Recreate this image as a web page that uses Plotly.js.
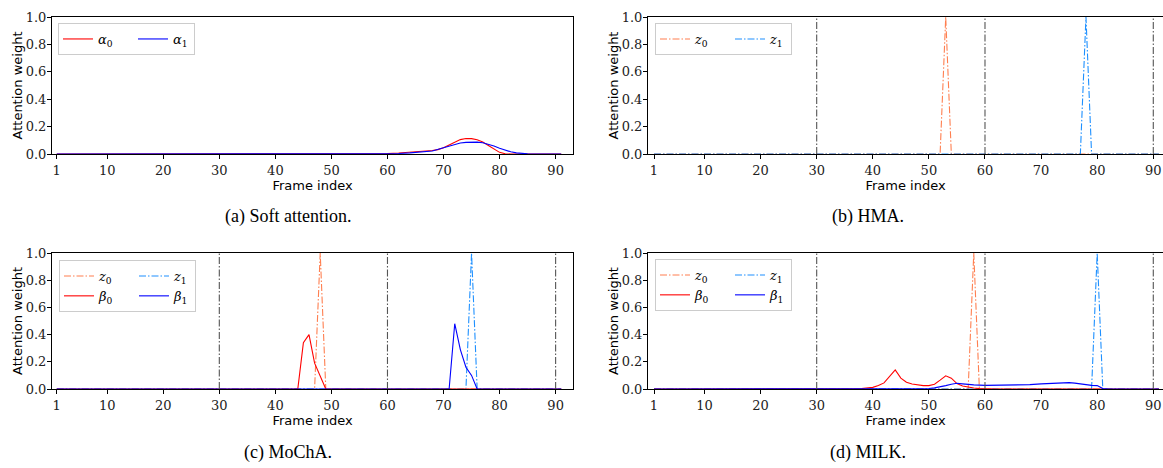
<!DOCTYPE html>
<html>
<head>
<meta charset="utf-8">
<script src="https://cdn.plot.ly/plotly-3.0.1.min.js"></script>
<style>html,body{margin:0;padding:0;background:#fff;}#chart{width:1163px;height:468px;}</style>
</head>
<body>
<div id="chart"></div>
<script>
// ---- data ----
const xTicks = [1, 10, 20, 30, 40, 50, 60, 70, 80, 90];
const yTicks = [0, 0.2, 0.4, 0.6, 0.8, 1.0];
const yTickText = ['0.0', '0.2', '0.4', '0.6', '0.8', '1.0'];
const segBounds = [30, 60, 90];

// (a) Soft attention
const softA0x = [1, 55, 58, 60, 62, 64, 66, 68, 69, 70, 71, 72, 73, 74, 75, 76, 77, 78, 79, 80, 81, 82, 91];
const softA0y = [0, 0, 0.001, 0.003, 0.007, 0.012, 0.018, 0.025, 0.032, 0.046, 0.066, 0.088, 0.105, 0.113, 0.112, 0.104, 0.088, 0.062, 0.035, 0.012, 0.002, 0, 0];
const softA1x = [1, 55, 58, 60, 62, 64, 66, 68, 70, 71, 72, 73, 74, 75, 76, 77, 78, 79, 80, 81, 82, 83, 84, 85, 86, 91];
const softA1y = [0, 0, 0.001, 0.002, 0.004, 0.008, 0.013, 0.022, 0.045, 0.057, 0.07, 0.08, 0.085, 0.087, 0.087, 0.082, 0.072, 0.058, 0.042, 0.028, 0.016, 0.008, 0.003, 0.001, 0, 0];

// (b) HMA
const hmaZ0x = [1, 52, 53, 54, 91];
const hmaZ0y = [0, 0, 1, 0, 0];
const hmaZ1x = [1, 77, 78, 79, 91];
const hmaZ1y = [0, 0, 1, 0, 0];

// (c) MoChA
const mochaZ0x = [1, 47, 48, 49, 91];
const mochaZ0y = [0, 0, 1, 0, 0];
const mochaZ1x = [1, 74, 75, 76, 91];
const mochaZ1y = [0, 0, 1, 0, 0];
const mochaB0x = [1, 44, 45, 46, 47, 48, 49, 91];
const mochaB0y = [0, 0, 0.34, 0.40, 0.19, 0.09, 0, 0];
const mochaB1x = [1, 71, 72, 73, 74, 75, 76, 91];
const mochaB1y = [0, 0, 0.48, 0.29, 0.16, 0.10, 0, 0];

// (d) MILK
const milkZ0x = [1, 57, 58, 59, 91];
const milkZ0y = [0, 0, 1, 0, 0];
const milkZ1x = [1, 79, 80, 81, 91];
const milkZ1y = [0, 0, 1, 0, 0];
const milkB0x = [1, 36, 38, 40, 41, 42, 43, 44, 45, 46, 47, 48, 49, 50, 51, 52, 53, 54, 55, 56, 57, 58, 59, 60, 62, 91];
const milkB0y = [0, 0, 0.003, 0.012, 0.025, 0.045, 0.092, 0.14, 0.08, 0.05, 0.037, 0.03, 0.025, 0.025, 0.035, 0.065, 0.097, 0.08, 0.04, 0.022, 0.013, 0.007, 0.003, 0.001, 0, 0];
const milkB1x = [1, 46, 48, 50, 51, 52, 53, 54, 55, 56, 57, 58, 60, 63, 66, 68, 70, 72, 74, 75, 76, 77, 78, 79, 80, 81, 82, 91];
const milkB1y = [0, 0, 0.001, 0.004, 0.008, 0.015, 0.025, 0.035, 0.042, 0.038, 0.033, 0.03, 0.027, 0.027, 0.028, 0.032, 0.038, 0.043, 0.047, 0.047, 0.043, 0.037, 0.031, 0.027, 0.025, 0.003, 0, 0];

// ---- styles ----
const RED = '#ff0000', BLUE = '#0000ff', CORAL = '#ff7f50', DBLUE = '#1e90ff';
const DASHDOT = '7px,2px,1.5px,2px';
const LW = 1.1;

function tr(x, y, name, color, dash, xa, ya, legend, group, lw) {
  const t = {
    type: 'scatter', mode: 'lines', x: x, y: y, name: name,
    line: {color: color, width: LW, dash: dash || 'solid'},
    xaxis: xa, yaxis: ya, legend: legend, legendgroup: group,
    hoverinfo: 'skip'
  };
  if (lw) t.legendwidth = lw;
  return t;
}
const sub = (g, i) => '<i>' + g + '</i><sub>' + i + '</sub>';

const data = [
  tr(softA0x, softA0y, sub('α', 0), RED, null, 'x', 'y', 'legend', 'a1'),
  tr(softA1x, softA1y, sub('α', 1), BLUE, null, 'x', 'y', 'legend', 'a2', 16),

  tr(hmaZ0x, hmaZ0y, sub('z', 0), CORAL, DASHDOT, 'x2', 'y2', 'legend2', 'b1'),
  tr(hmaZ1x, hmaZ1y, sub('z', 1), DBLUE, DASHDOT, 'x2', 'y2', 'legend2', 'b2', 16),

  tr(mochaZ0x, mochaZ0y, sub('z', 0), CORAL, DASHDOT, 'x3', 'y3', 'legend3', 'c1'),
  tr(mochaZ1x, mochaZ1y, sub('z', 1), DBLUE, DASHDOT, 'x3', 'y3', 'legend3', 'c2', 16),
  tr(mochaB0x, mochaB0y, sub('β', 0), RED, null, 'x3', 'y3', 'legend3', 'c1'),
  tr(mochaB1x, mochaB1y, sub('β', 1), BLUE, null, 'x3', 'y3', 'legend3', 'c2', 16),

  tr(milkZ0x, milkZ0y, sub('z', 0), CORAL, DASHDOT, 'x4', 'y4', 'legend4', 'd1'),
  tr(milkZ1x, milkZ1y, sub('z', 1), DBLUE, DASHDOT, 'x4', 'y4', 'legend4', 'd2', 16),
  tr(milkB0x, milkB0y, sub('β', 0), RED, null, 'x4', 'y4', 'legend4', 'd1'),
  tr(milkB1x, milkB1y, sub('β', 1), BLUE, null, 'x4', 'y4', 'legend4', 'd2', 16)
];

const W = 1163, H = 468;
const px = v => v / W;
const py = v => 1 - v / H;
const TICKCOL = '#222222';

function xax(domain, anchor, range) {
  return {
    domain: domain, anchor: anchor, range: range,
    tickmode: 'array', tickvals: xTicks, ticktext: xTicks.map(String),
    showline: true, mirror: true, linecolor: '#000', linewidth: 1,
    ticks: 'outside', ticklen: 4, tickwidth: 1, tickcolor: '#000',
    showgrid: false, zeroline: false, fixedrange: true,
    tickfont: {family: 'DejaVu Serif', size: 13, color: TICKCOL},
    title: {text: 'Frame index', font: {family: 'DejaVu Sans', size: 13, color: '#000'}, standoff: 2}
  };
}
function yax(domain, anchor) {
  return {
    domain: domain, anchor: anchor, range: [0, 1],
    tickmode: 'array', tickvals: yTicks, ticktext: yTickText,
    showline: true, mirror: true, linecolor: '#000', linewidth: 1,
    ticks: 'outside', ticklen: 4, tickwidth: 1, tickcolor: '#000',
    ticklabelstandoff: -2,
    showgrid: false, zeroline: false, fixedrange: true,
    tickfont: {family: 'DejaVu Serif', size: 13, color: TICKCOL},
    title: {text: 'Attention weight', font: {family: 'DejaVu Sans', size: 13, color: '#000'}, standoff: 0}
  };
}

const leftDom = [px(52), px(573)];
const rightDom = [px(648), 1];
const topDom = [py(154), py(17)];
const botDom = [py(389), py(253)];

function leg(x, y) {
  return {
    x: x, y: y, xanchor: 'left', yanchor: 'top', orientation: 'h',
    traceorder: 'grouped', entrywidth: 30, entrywidthmode: 'pixels',
    bgcolor: 'rgba(255,255,255,0.8)', bordercolor: '#cccccc', borderwidth: 1,
    font: {family: 'DejaVu Serif', size: 13, color: '#000'},
    tracegroupgap: 0, itemclick: false, itemdoubleclick: false
  };
}

const shapes = [];
[['x2', 'y2'], ['x3', 'y3'], ['x4', 'y4']].forEach(([xa, ya]) => {
  segBounds.forEach(v => shapes.push({
    type: 'line', xref: xa, yref: ya, x0: v, x1: v, y0: 0, y1: 1,
    line: {color: '#555555', width: LW, dash: DASHDOT}, layer: 'above'
  }));
});

const capFont = {family: 'Liberation Serif', size: 18, color: '#000'};
const annotations = [
  {text: '(a) Soft attention.', x: px(288), y: py(216)},
  {text: '(b) HMA.', x: px(868), y: py(216)},
  {text: '(c) MoChA.', x: px(288), y: py(452)},
  {text: '(d) MILK.', x: px(868), y: py(452)}
].map(a => Object.assign(a, {xref: 'paper', yref: 'paper', xanchor: 'center', yanchor: 'middle', showarrow: false, font: capFont}));

const layout = {
  width: W, height: H,
  margin: {l: 0, r: 0, t: 0, b: 0},
  paper_bgcolor: '#fff', plot_bgcolor: '#fff',
  showlegend: true,
  xaxis: xax(leftDom, 'y', [0.15, 93.1]),
  yaxis: yax(topDom, 'x'),
  xaxis2: xax(rightDom, 'y2', [-0.07, 91.73]),
  yaxis2: yax(topDom, 'x2'),
  xaxis3: xax(leftDom, 'y3', [0.15, 93.1]),
  yaxis3: yax(botDom, 'x3'),
  xaxis4: xax(rightDom, 'y4', [-0.07, 91.73]),
  yaxis4: yax(botDom, 'x4'),
  legend: leg(px(58), py(23)),
  legend2: leg(px(655), py(23)),
  legend3: leg(px(59), py(260)),
  legend4: leg(px(655), py(259)),
  shapes: shapes,
  annotations: annotations
};

Plotly.newPlot('chart', data, layout, {displayModeBar: false, staticPlot: false});
</script>
</body>
</html>
